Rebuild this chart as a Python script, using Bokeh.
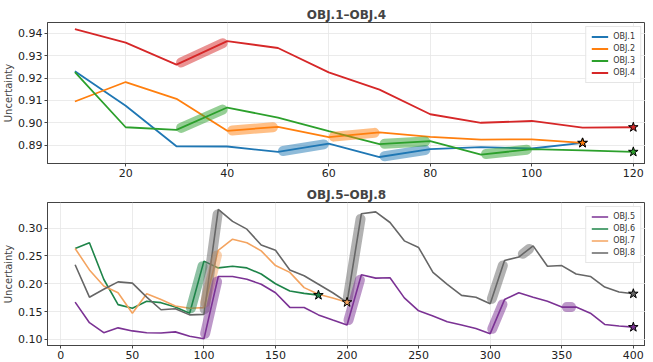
import numpy as np
from bokeh.plotting import figure
from bokeh.layouts import column
from bokeh.models import Legend, LegendItem, FixedTicker, NumeralTickFormatter
from bokeh.embed import file_html
from bokeh.resources import INLINE

# ---------------- data: top panel ----------------
top_x = [10, 20, 30, 40, 50, 60, 70, 80, 90, 100, 110, 120]
obj1 = [0.9230, 0.9076, 0.8895, 0.8894, 0.8870, 0.8907, 0.8847, 0.8882, 0.8891, 0.8885, 0.8910]
obj2 = [0.9095, 0.9182, 0.9107, 0.8964, 0.8982, 0.8936, 0.8957, 0.8937, 0.8925, 0.8926, 0.8910]
obj3 = [0.9226, 0.8980, 0.8968, 0.9068, 0.9023, 0.8963, 0.8905, 0.8918, 0.8858, 0.8882, 0.8877, 0.8870]
obj4 = [0.9418, 0.9358, 0.9260, 0.9365, 0.9334, 0.9225, 0.9148, 0.9038, 0.9000, 0.9008, 0.8978, 0.8980]
top_names = ["OBJ.1", "OBJ.2", "OBJ.3", "OBJ.4"]
top_series = [obj1, obj2, obj3, obj4]
top_colors = ["#1f77b4", "#ff7f0e", "#2ca02c", "#d62728"]
top_highlights = [("OBJ.4", 30, 40), ("OBJ.3", 30, 40), ("OBJ.2", 40, 50), ("OBJ.1", 50, 60),
                  ("OBJ.2", 60, 70), ("OBJ.1", 70, 80), ("OBJ.3", 70, 80), ("OBJ.3", 90, 100)]
top_xticks = [20, 40, 60, 80, 100, 120]
top_yticks = [0.89, 0.90, 0.91, 0.92, 0.93, 0.94]

# ---------------- data: bottom panel ----------------
bot_x = list(range(10, 410, 10))
obj5 = [0.1670, 0.1300, 0.1120, 0.1207, 0.1152, 0.1120, 0.1115, 0.1135, 0.1055, 0.1010,
        0.2130, 0.2130, 0.2080, 0.1990, 0.1837, 0.1574, 0.1574, 0.1440, 0.1348, 0.1257,
        0.2160, 0.2100, 0.2106, 0.1745, 0.1513, 0.1420, 0.1317, 0.1257, 0.1195, 0.1103,
        0.1715, 0.1837, 0.1758, 0.1684, 0.1580, 0.1580, 0.1470, 0.1268, 0.1240, 0.1220]
obj6 = [0.2633, 0.2736, 0.2080, 0.1624, 0.1560, 0.1684, 0.1660, 0.1580, 0.1470, 0.2406,
        0.2284, 0.2314, 0.2284, 0.2174, 0.2000, 0.1868, 0.1826, 0.1795]
obj7 = [0.2633, 0.2248, 0.1960, 0.1837, 0.1470, 0.1820, 0.1715, 0.1600, 0.1560, 0.1570,
        0.2600, 0.2800, 0.2736, 0.2590, 0.2326, 0.2204, 0.1930, 0.1810, 0.1745, 0.1666]
obj8 = [0.2340, 0.1758, 0.1900, 0.2033, 0.2010, 0.1758, 0.1532, 0.1550, 0.1440, 0.1450,
        0.3336, 0.3120, 0.2980, 0.2694, 0.2600, 0.2247, 0.2143, 0.1990, 0.1837, 0.1666,
        0.3257, 0.3290, 0.3100, 0.2770, 0.2650, 0.2204, 0.1990, 0.1790, 0.1758, 0.1640,
        0.2418, 0.2480, 0.2680, 0.2314, 0.2326, 0.2174, 0.2130, 0.1940, 0.1850, 0.1820]
bot_names = ["OBJ.5", "OBJ.6", "OBJ.7", "OBJ.8"]
bot_series = [obj5, obj6, obj7, obj8]
bot_colors = ["#7b3294", "#1e8449", "#f4a460", "#666666"]
bot_highlights = [("OBJ.6", 90, 100), ("OBJ.7", 100, 110), ("OBJ.8", 100, 110), ("OBJ.5", 100, 110),
                  ("OBJ.8", 200, 210), ("OBJ.5", 200, 210), ("OBJ.8", 300, 310), ("OBJ.5", 300, 310),
                  ("OBJ.8", 320, 330), ("OBJ.5", 350, 360)]
bot_xticks = [0, 50, 100, 150, 200, 250, 300, 350, 400]
bot_yticks = [0.10, 0.15, 0.20, 0.25, 0.30]

FONT = "DejaVu Sans"
W = 645
FRAME_W = 594
FRAME_H = 136


def make_panel(title, xs_all, names, series, colors, highlights, xr, yr, xticks, yticks,
               height, border_top, lw):
    p = figure(width=W, height=height, x_range=xr, y_range=yr, output_backend="svg",
               toolbar_location=None, min_border_left=38, min_border_right=0,
               min_border_top=border_top, min_border_bottom=10)
    p.title.text = title
    p.title.align = "center"
    p.title.text_font = FONT
    p.title.text_font_size = "12px"
    p.title.text_font_style = "bold"
    p.title.standoff = 2
    p.title.offset = 0
    p.outline_line_color = "#444444"
    p.outline_line_width = 1
    for ax in (p.xaxis[0], p.yaxis[0]):
        ax.major_label_text_font = FONT
        ax.major_label_text_font_size = "11px"
        ax.major_label_text_color = "#222222"
        ax.major_tick_in = 0
        ax.major_tick_out = 3
        ax.minor_tick_line_color = None
        ax.axis_line_color = "#444444"
        ax.major_tick_line_color = "#444444"
        ax.major_label_standoff = 2
    p.xaxis[0].ticker = FixedTicker(ticks=xticks)
    p.yaxis[0].ticker = FixedTicker(ticks=yticks)
    p.yaxis[0].formatter = NumeralTickFormatter(format="0.00")
    p.yaxis[0].axis_label = "Uncertainty"
    p.yaxis[0].axis_label_text_font = FONT
    p.yaxis[0].axis_label_text_font_size = "10px"
    p.yaxis[0].axis_label_text_font_style = "normal"
    p.yaxis[0].axis_label_standoff = 1
    p.grid.grid_line_color = "#e6e6e6"
    p.grid.grid_line_width = 0.8

    sx = FRAME_W / (xr[1] - xr[0])
    sy = FRAME_H / (yr[1] - yr[0])

    items = []
    lookup = {}
    for name, ys, c in zip(names, series, colors):
        xs = xs_all[:len(ys)]
        lookup[name] = (xs, ys, c)
        r = p.line(xs, ys, line_color=c, line_width=lw)
        items.append(LegendItem(label=name, renderers=[r]))

    # highlight bands
    for name, x0, x1 in highlights:
        xs, ys, c = lookup[name]
        y0 = float(np.interp(x0, xs, ys))
        y1 = float(np.interp(x1, xs, ys))
        L = np.hypot((x1 - x0) * sx, (y1 - y0) * sy)
        t = min(5.0 / L, 0.45)
        bx = [x0 + t * (x1 - x0), x0 + (1 - t) * (x1 - x0)]
        by = [y0 + t * (y1 - y0), y0 + (1 - t) * (y1 - y0)]
        p.line(bx, by, line_color=c, line_width=10, line_alpha=0.5, line_cap="round")

    # end markers
    for name, ys, c in zip(names, series, colors):
        xs = xs_all[:len(ys)]
        p.scatter([xs[-1]], [ys[-1]], marker="star", size=10, fill_color=c,
                  line_color="black", line_width=1)

    leg = Legend(items=items, location="top_right")
    leg.label_text_font = FONT
    leg.label_text_font_size = "8px"
    leg.label_text_color = "#333333"
    leg.label_height = 9
    leg.glyph_height = 9
    leg.glyph_width = 17
    leg.spacing = 3
    leg.padding = 5
    leg.margin = 4
    leg.label_standoff = 5
    leg.border_line_color = "#cccccc"
    leg.background_fill_alpha = 0.9
    p.add_layout(leg)
    return p


p1 = make_panel("OBJ.1\u2013OBJ.4", top_x, top_names, top_series, top_colors, top_highlights,
                (4.6, 122.4), (0.8818, 0.9448), top_xticks, top_yticks, 179, 22, 1.8)
p2 = make_panel("OBJ.5\u2013OBJ.8", bot_x, bot_names, bot_series, bot_colors, bot_highlights,
                (-9.3, 408.5), (0.089, 0.3459), bot_xticks, bot_yticks, 182, 23, 1.6)

layout = column(p1, p2, spacing=0)
open("out.html", "w").write(file_html(layout, INLINE))
